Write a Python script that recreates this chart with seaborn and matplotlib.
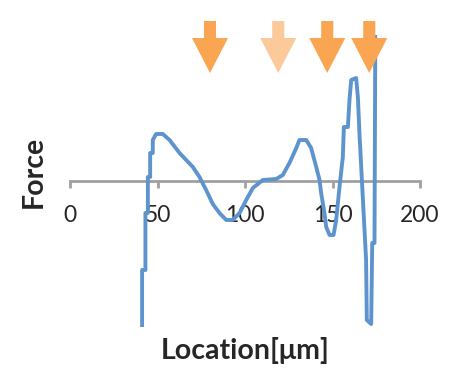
import matplotlib
matplotlib.use("Agg")
import matplotlib.pyplot as plt
import seaborn as sns
import pandas as pd

# Data (Force in arbitrary units)
location = [41.2, 41.2, 43.1, 43.1, 44.5, 44.5, 45.8, 45.8, 47.3, 47.3, 49.2, 53.0, 56.9, 62.6,
            70.2, 74.0, 77.8, 81.6, 85.4, 89.3, 93.0, 96.9, 100.7, 104.5, 110.2, 117.8, 121.6,
            125.4, 129.3, 131.1, 135.0, 137.8, 140.7, 142.6, 143.5, 145.4, 146.4, 148.3, 150.6,
            152.1, 154.0, 155.9, 156.5, 158.8, 159.7, 160.7, 163.5, 164.5, 165.4, 167.3, 169.2,
            169.6, 172.1, 172.7, 174.0, 174.4, 174.4]
force = [-160, -89, -89, -32, -32, 4, 4, 28, 28, 41, 47, 47, 41, 28,
         14, 4, -9, -23, -32, -39, -39, -32, -19, -7, 1, 2, 6,
         18, 33, 41, 41, 33, 14, 1, -12, -32, -46, -54, -54,
         -39, -6, 24, 54, 54, 81, 101, 103, 84, 48, -16, -79,
         -139, -143, -62, -62, 121, 200]

arrow_x = [80, 119, 147, 171]
arrow_colors = ["#F9A552", "#FCC99B", "#F9A552", "#F9A552"]

xticks = [0, 50, 100, 150, 200]

sns.set_style("white")
plt.rcParams["font.family"] = ["Lato", "DejaVu Sans"]

fig = plt.figure(figsize=(4.49, 3.76), dpi=100)
ax = fig.add_axes([70 / 449, 49 / 376, 350 / 449, 292 / 376])

df = pd.DataFrame({"Location": location, "Force": force})
sns.lineplot(data=df, x="Location", y="Force", sort=False, ax=ax,
             color="#5D94CE", linewidth=2.8, estimator=None)

ax.set_xlim(0, 200)
ax.set_ylim(-146, 146)

for s in ["left", "right", "top"]:
    ax.spines[s].set_visible(False)
ax.spines["bottom"].set_position(("data", 0))
ax.spines["bottom"].set_color("#A0A0A0")
ax.spines["bottom"].set_linewidth(2)
ax.spines["bottom"].set_zorder(1)

ax.set_xticks(xticks)
ax.set_xticklabels([str(t) for t in xticks])
ax.tick_params(axis="x", direction="out", length=5, width=2, color="#A0A0A0",
               labelsize=16.5, pad=12, bottom=True)
ax.set_yticks([])

ax.set_xlabel("Location[μm]", fontsize=20.5, fontweight="bold")
ax.xaxis.set_label_coords(0.5, -0.035)
ax.set_ylabel("Force", fontsize=20.5, fontweight="bold")
ax.yaxis.set_label_coords(-0.065, 0.53)

for x, c in zip(arrow_x, arrow_colors):
    ax.arrow(x, 160, 0, -52, width=6.9, head_width=20.6, head_length=35,
             length_includes_head=True, color=c, clip_on=False, zorder=5, linewidth=0)

fig.savefig("out.png", dpi=100)
